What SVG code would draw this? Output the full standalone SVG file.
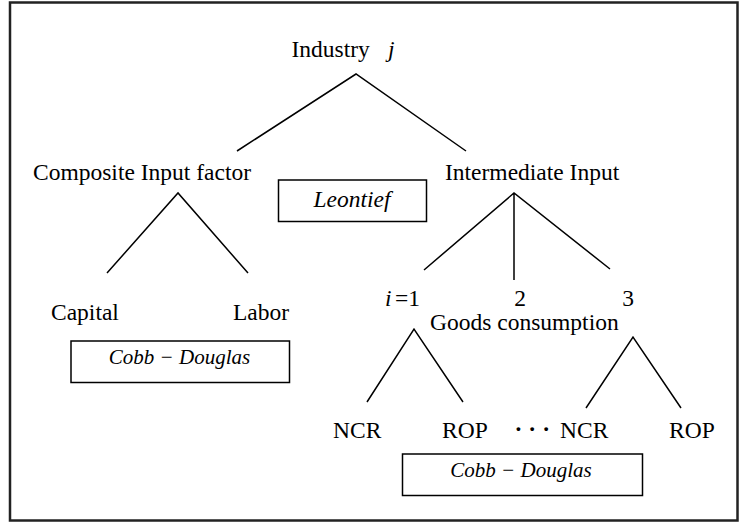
<svg xmlns="http://www.w3.org/2000/svg" width="742" height="523" viewBox="0 0 742 523">
<style>
.t{font-family:"Liberation Serif","Times New Roman",serif;font-size:23.5px;fill:#000}
.it{font-style:italic}
.cd{font-family:"Liberation Serif","Times New Roman",serif;font-size:21px;font-style:italic;fill:#000}
.box{fill:#fff;stroke:#000;stroke-width:1.5}
.ln{stroke:#000;stroke-width:1.5;fill:none}
</style>
<rect x="10" y="2.5" width="727.5" height="518" fill="#fff" stroke="#222" stroke-width="2.5"/>
<g id="connectors">
<path class="ln" d="M237,151 L356,74 L466,151"/>
<path class="ln" d="M107,273 L178,193 L248,273"/>
<path class="ln" d="M424,270 L514,193 L610,269 M514,193 L514,280"/>
<path class="ln" d="M367,402 L414,329 L463,402"/>
<path class="ln" d="M586,408 L633,337 L681,408"/>
</g>
<g id="industry"><text class="t" x="291.5" y="57">Industry</text><text class="t it" x="388" y="57">j</text></g>
<g id="composite"><text class="t" x="33" y="180">Composite Input factor</text></g>
<g id="intermediate"><text class="t" x="445" y="179.5">Intermediate Input</text></g>
<g id="leontief"><rect class="box" x="278.5" y="180" width="148" height="41.5"/><text class="t it" x="352" y="207" text-anchor="middle" font-size="24">Leontief</text></g>
<g id="capital"><text class="t" x="51" y="320">Capital</text></g>
<g id="labor"><text class="t" x="233" y="320">Labor</text></g>
<g id="cobb1"><rect class="box" x="71" y="341" width="218.5" height="41.5"/><text class="cd" x="179.5" y="363.5" text-anchor="middle">Cobb − Douglas</text></g>
<g id="i1"><text class="t" x="385" y="306"><tspan class="it">i</tspan><tspan x="395">=1</tspan></text></g>
<g id="i2"><text class="t" x="520" y="306" text-anchor="middle">2</text></g>
<g id="i3"><text class="t" x="628" y="306" text-anchor="middle">3</text></g>
<g id="goods"><text class="t" x="430" y="330">Goods consumption</text></g>
<g id="ncr1"><text class="t" x="333" y="437.5">NCR</text></g>
<g id="rop1"><text class="t" x="442" y="437.5">ROP</text></g>
<g id="dots"><text class="t" x="514.5" y="437" font-weight="bold" letter-spacing="6">···</text></g>
<g id="ncr2"><text class="t" x="560" y="437.5">NCR</text></g>
<g id="rop2"><text class="t" x="669" y="437.5">ROP</text></g>
<g id="cobb2"><rect class="box" x="402.5" y="454" width="240" height="41.5"/><text class="cd" x="521" y="477" text-anchor="middle">Cobb − Douglas</text></g>
</svg>
